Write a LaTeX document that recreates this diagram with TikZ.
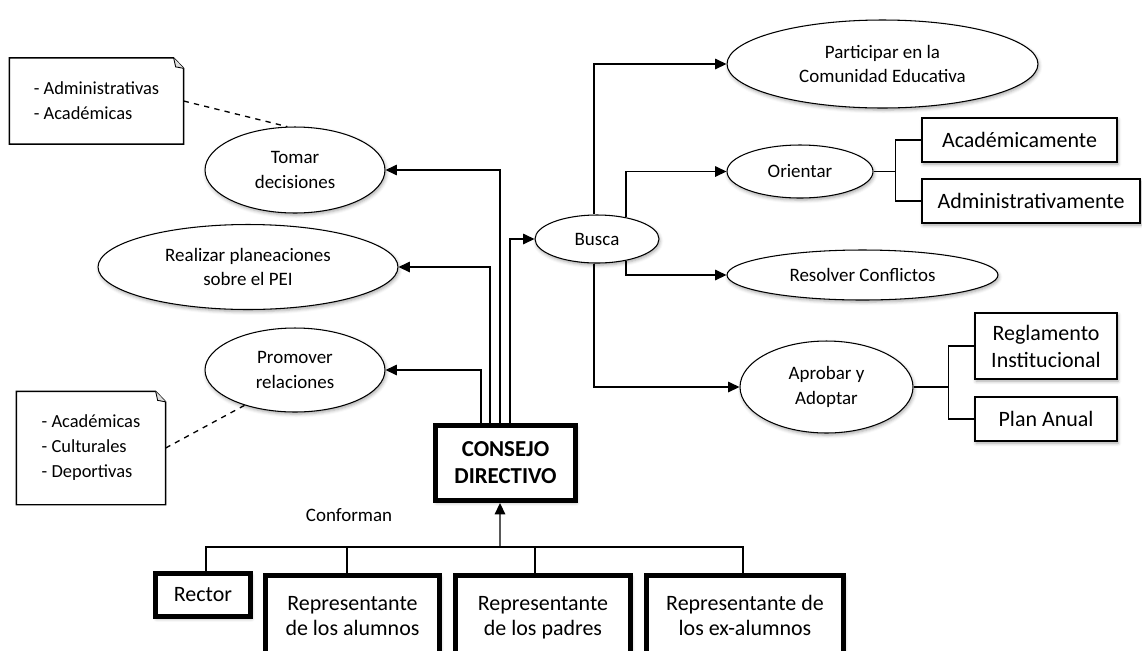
\documentclass[tikz,border=0pt]{standalone}
\usepackage{fontspec}
\setmainfont{Carlito}
\usepackage{tikz}
\usetikzlibrary{positioning,arrows.meta}
\usetikzlibrary{shapes.geometric}
\usetikzlibrary{shadows.blur}
\tikzset{every picture/.style={line width=0.75pt}}
\tikzset{
  shad/.style={blur shadow={shadow xshift=0.6pt,shadow yshift=-1.2pt,shadow blur steps=4,shadow opacity=35}},
  elli/.style={ellipse,draw,fill=white,shad,inner sep=0pt,align=center,line width=0.6pt,
    font=\fontsize{10.8}{13.9}\selectfont},
  cbox/.style={rectangle,draw,fill=white,shad,line width=2.8pt,inner sep=0pt,align=center,
    font=\fontsize{12.5}{14.2}\selectfont},
  tbox/.style={rectangle,draw,fill=white,shad,line width=0.75pt,inner sep=0pt,align=center,
    font=\fontsize{12.5}{15.4}\selectfont},
  notetxt/.style={rectangle,inner sep=0pt,align=left,font=\fontsize{10.5}{14.2}\selectfont},
  arr/.style={-{Triangle[length=6.5pt,width=6pt]}},
}
\newcommand\foldnote[1]{%
  \draw (#1.south west) -- (#1.north west) -- ([xshift=-0.2cm]#1.north east)
    -- ([yshift=-0.21cm]#1.north east) -- (#1.south east) -- cycle;
  \draw[fill=gray!25,line width=0.5pt] ([xshift=-0.2cm]#1.north east) -- ([xshift=-0.16cm,yshift=-0.18cm]#1.north east)
    -- ([yshift=-0.21cm]#1.north east);
}
\newcommand\twoln[2]{\begin{tabular}{@{}c@{}}#1\\#2\end{tabular}}

\begin{document}
\begin{tikzpicture}[x=0.02cm,y=-0.02cm]
\useasboundingbox (0,0) rectangle (1142,650);
% notes
\node[notetxt,minimum width=3.46cm,minimum height=1.7cm] (acad) at (96.5,101) {- Administrativas\\- Académicas};
\node[notetxt,minimum width=2.96cm,minimum height=2.24cm] (activ) at (91,448) {- Académicas\\- Culturales\\- Deportivas};
\foldnote{acad}
\foldnote{activ}
%
\node[elli,minimum width=3.6cm,minimum height=1.72cm] (tomar) at (295,170) {Tomar\\decisiones};
\node[elli,minimum width=6cm,minimum height=1.7cm] (realizar) at (248,267) {Realizar planeaciones\\sobre el PEI};
\node[elli,minimum width=3.6cm,minimum height=1.68cm] (promover) at (295,370) {Promover\\relaciones};
\node[elli,minimum width=2.48cm,minimum height=0.96cm] (busca) at (597,239) {Busca};
\node[elli,minimum width=6.22cm,minimum height=1.76cm] (participar) at (882.5,64) {Participar en la\\Comunidad Educativa};
\node[elli,minimum width=2.92cm,minimum height=1.06cm] (orientar) at (800,171.5) {Orientar};
\node[elli,minimum width=5.42cm,minimum height=1cm] (resolver) at (862.5,275) {Resolver Conflictos};
\node[elli,minimum width=3.46cm,minimum height=1.84cm] (aprobar) at (826.5,387) {Aprobar y\\Adoptar};
%
\node[tbox,minimum width=3.9cm,minimum height=0.88cm] (academ) at (1019.5,140) {Académicamente};
\node[tbox,minimum width=4.36cm,minimum height=0.88cm] (admin) at (1031,201) {Administrativamente};
\node[tbox,minimum width=2.84cm,minimum height=1.32cm] (reglamento) at (1046,346) {Reglamento\\Institucional};
\node[tbox,minimum width=2.84cm,minimum height=0.88cm] (plan) at (1046,419) {Plan Anual};
%
\node[cbox,minimum width=2.8cm,minimum height=1.5cm,font=\bfseries\fontsize{13}{15.4}\selectfont] (consejo) at (505.5,463) {CONSEJO\\DIRECTIVO};
\node[font=\fontsize{10.8}{13}\selectfont] (conforman) at (349,515) {Conforman};
\node[cbox,minimum width=1.9cm,minimum height=0.86cm] (rector) at (203,595) {Rector};
\node[cbox,minimum width=3.48cm,minimum height=1.7cm] (alumnos) at (352.5,618) {\twoln{Representante}{de los alumnos}};
\node[cbox,minimum width=3.51cm,minimum height=1.7cm] (padres) at (543,618) {\twoln{Representante}{de los padres}};
\node[cbox,minimum width=3.94cm,minimum height=1.7cm] (exalumnos) at (745,618) {\twoln{Representante de}{los ex-alumnos}};
%
\draw[dashed] (acad.east) -- (tomar.100);
\draw[dashed] (activ.east) -- (promover.215);
%
\draw[arr] ([xshift=-0.49cm]consejo.north) |- (promover);
\draw[arr] ([xshift=-0.31cm]consejo.north) |- (realizar);
\draw[arr] ([xshift=-0.11cm]consejo.north) |- (tomar);
\draw[arr] ([xshift=0.09cm]consejo.north) |- (busca);
%
\draw[arr] ([xshift=-0.06cm]busca.north) |- (participar);
\draw[arr] (busca.37) |- (orientar);
\draw[arr] (busca.-37) |- (resolver);
\draw[arr] ([xshift=-0.06cm]busca.south) |- (aprobar);
%
\draw (orientar.east) -- ++(0.44cm,0) coordinate (oj);
\draw (academ.west) -| (oj) |- (admin.west);
\draw (aprobar.east) -- ++(0.7cm,0) coordinate (aj);
\draw (reglamento.west) -| (aj) |- (plan.west);
%
\coordinate (bar) at (500,547);
\draw[arr] (bar) -- ([xshift=-0.11cm]consejo.south);
\draw ([xshift=0.06cm]rector.north) |- (bar) -| ([xshift=-0.04cm]exalumnos.north);
\draw ([xshift=-0.11cm]alumnos.north) -- ([xshift=-0.11cm]alumnos.north |- bar);
\draw ([xshift=-0.16cm]padres.north) -- ([xshift=-0.16cm]padres.north |- bar);
\end{tikzpicture}
\end{document}
